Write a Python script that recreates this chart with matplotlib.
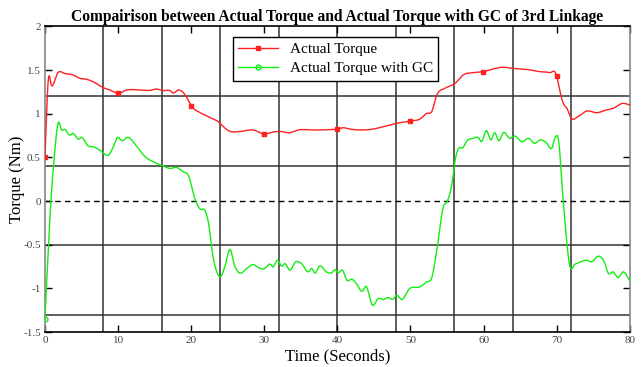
import numpy as np
import matplotlib
matplotlib.use("Agg")
import matplotlib.pyplot as plt

plt.rcParams['font.family'] = ['Liberation Serif', 'DejaVu Serif']

# Actual Torque (red)
t_act = [0, 0.46, 0.91, 1.82, 2.73, 3.87, 4.79, 5.7, 6.84, 7.98, 8.89, 10, 11.17, 13,
         14.36, 15.27, 16.18, 17.1, 17.55, 18.2, 18.9, 19.6, 20, 20.97, 21.88, 22.8,
         23.7, 24.4, 25.1, 26.7, 28.5, 30, 31.2, 32.1, 33.5, 34.6, 36.7, 38.5, 40,
         40.8, 41.7, 44.9, 46.3, 48.1, 50, 51.3, 52.2, 52.9, 53.6, 54.7, 56.1, 57.2,
         58.6, 60, 61.3, 62.4, 64, 65.8, 67.7, 69, 70, 70.4, 70.9, 71.4, 72.0, 72.9,
         74.1, 75.5, 76.8, 77.7, 79.1, 80]
tq_act = [0.5, 1.39, 1.32, 1.475, 1.46, 1.444, 1.406, 1.395, 1.356, 1.299, 1.272, 1.234,
          1.272, 1.272, 1.268, 1.283, 1.265, 1.265, 1.237, 1.272, 1.245, 1.158, 1.093,
          1.024, 0.986, 0.948, 0.91, 0.852, 0.806, 0.798, 0.814, 0.768, 0.791, 0.798,
          0.783, 0.814, 0.814, 0.817, 0.825, 0.84, 0.825, 0.825, 0.852, 0.89, 0.917,
          0.94, 1.004, 1.024, 1.215, 1.291, 1.348, 1.444, 1.471, 1.482, 1.513, 1.532,
          1.52, 1.509, 1.482, 1.471, 1.433, 1.272, 1.12, 1.062, 0.948, 0.967, 1.031,
          1.012, 1.043, 1.062, 1.12, 1.1]

# Actual Torque with GC (green)
t_gc = [0, 0.82, 1.24, 1.82, 2.28, 2.73, 3.33, 3.87, 4.56, 5.01, 5.93, 6.61, 7.52, 8.8,
        9.35, 9.9, 10.58, 11.26, 12.54, 13.7, 14.8, 16.2, 17.1, 18, 18.9, 19.6, 20.5,
        21.2, 21.9, 22.3, 23.0, 23.5, 24.0, 24.6, 25.3, 26.0, 26.6, 27.6, 28.5, 29.2,
        29.95, 30.8, 31.2, 31.8, 32.4, 32.8, 33.5, 34.3, 35.1, 36.0, 36.5, 36.9, 37.6,
        38.5, 39.2, 39.7, 40.1, 40.7, 41.3, 42.0, 42.6, 43.4, 43.9, 44.8, 45.6, 46.3,
        46.9, 47.6, 48.1, 48.8, 49.9, 51.3, 52.2, 52.9, 53.6, 54.5, 55.0, 55.6, 56.2,
        56.5, 57.2, 57.7, 58.6, 59.3, 59.7, 60.4, 61.0, 61.5, 62.1, 62.7, 63.6, 64.3,
        65.2, 66.2, 67.0, 67.7, 68.6, 69.3, 69.9, 70.2, 70.9, 71.8, 72.5, 73.2, 74.1,
        74.8, 75.7, 76.4, 77.1, 77.7, 78.4, 79.1, 80]
tq_gc = [-1.35, 0.0, 0.47, 0.898, 0.814, 0.821, 0.756, 0.775, 0.71, 0.73, 0.63, 0.622,
         0.584, 0.535, 0.622, 0.726, 0.691, 0.73, 0.63, 0.508, 0.451, 0.401, 0.374,
         0.386, 0.336, 0.298, 0.03, -0.09, -0.11, -0.218, -0.638, -0.81, -0.867, -0.753,
         -0.554, -0.753, -0.822, -0.772, -0.726, -0.761, -0.776, -0.722, -0.753, -0.677,
         -0.745, -0.715, -0.791, -0.696, -0.715, -0.81, -0.772, -0.822, -0.742, -0.81,
         -0.822, -0.784, -0.822, -0.791, -0.906, -0.894, -0.944, -1.032, -0.974, -1.192,
         -1.115, -1.127, -1.104, -1.123, -1.077, -1.127, -1.0, -0.982, -0.925, -0.879,
         -0.562, -0.065, -0.007, 0.164, 0.508, 0.592, 0.615, 0.688, 0.718, 0.726, 0.68,
         0.806, 0.7, 0.783, 0.691, 0.783, 0.718, 0.745, 0.68, 0.718, 0.661, 0.7, 0.668,
         0.603, 0.745, 0.726, -0.007, -0.745, -0.722, -0.696, -0.677, -0.696, -0.63,
         -0.677, -0.83, -0.81, -0.875, -0.81, -0.913]

grid_x = [8, 16, 24, 32, 40, 48, 56, 64, 72]
grid_y = [1.2, 0.4, -0.5, -1.3]
marker_times = [0, 10, 20, 30, 40, 50, 60, 70]


def smooth(t, y, n=1600):
    # cubic hermite through the read points, for a smooth trace
    t = np.asarray(t, float)
    y = np.asarray(y, float)
    tt = np.linspace(t[0], t[-1], n)
    d = np.gradient(y, t)
    idx = np.clip(np.searchsorted(t, tt) - 1, 0, len(t) - 2)
    h = t[idx + 1] - t[idx]
    s = (tt - t[idx]) / h
    h00 = 2 * s**3 - 3 * s**2 + 1
    h10 = s**3 - 2 * s**2 + s
    h01 = -2 * s**3 + 3 * s**2
    h11 = s**3 - s**2
    yy = h00 * y[idx] + h10 * h * d[idx] + h01 * y[idx + 1] + h11 * h * d[idx + 1]
    return tt, yy


fig, ax = plt.subplots(figsize=(6.42, 3.67), dpi=100)
fig.subplots_adjust(left=0.070, right=0.981, bottom=0.095, top=0.928)

for gx in grid_x:
    ax.axvline(gx, color='#333333', lw=1.1, zorder=1)
for gy in grid_y:
    ax.axhline(gy, color='#333333', lw=1.1, zorder=1)
ax.axhline(0, color='black', lw=1.0, ls=(0, (4, 3)), zorder=1)

xs, ys = smooth(t_act, tq_act)
xg, yg = smooth(t_gc, tq_gc)
mk_a = [int(np.argmin(np.abs(xs - m))) for m in marker_times]

ax.plot(xs, ys, color='#ff2020', lw=1.0, marker='s', markersize=2.8,
        markevery=mk_a, label='Actual Torque', zorder=3)
ax.plot(xg, yg, color='#10ee10', lw=1.0, marker='o', markersize=3.5,
        markerfacecolor='none', markevery=[0], label='Actual Torque with GC', zorder=3)

ax.set_xlim(0, 80)
ax.set_ylim(-1.5, 2)
ax.set_xticks(np.arange(0, 81, 10))
ax.set_yticks(np.arange(-1.5, 2.01, 0.5))
ax.set_yticklabels(['-1.5', '-1', '-0.5', '0', '0.5', '1', '1.5', '2'])
ax.tick_params(direction='in', top=True, right=True, length=5, width=1,
               labelsize=8, labelcolor='#444444', pad=3)
for sp in ax.spines.values():
    sp.set_linewidth(1.2)
ax.spines['left'].set_color('#888888')
ax.spines['right'].set_color('#888888')

ax.set_title('Compairison between Actual Torque and Actual Torque with GC of 3rd Linkage',
             fontsize=11.2, fontweight='bold', pad=4)
ax.set_xlabel('Time (Seconds)', fontsize=12, labelpad=2)
ax.set_ylabel('Torque (Nm)', fontsize=12, labelpad=-1)

leg = ax.legend(loc='upper center', bbox_to_anchor=(0.497, 0.99), fontsize=11,
                fancybox=False, framealpha=1, edgecolor='black', handlelength=2.6,
                borderpad=0.35, labelspacing=0.35)
leg.get_frame().set_linewidth(1.0)

fig.savefig('out.png', dpi=100)
